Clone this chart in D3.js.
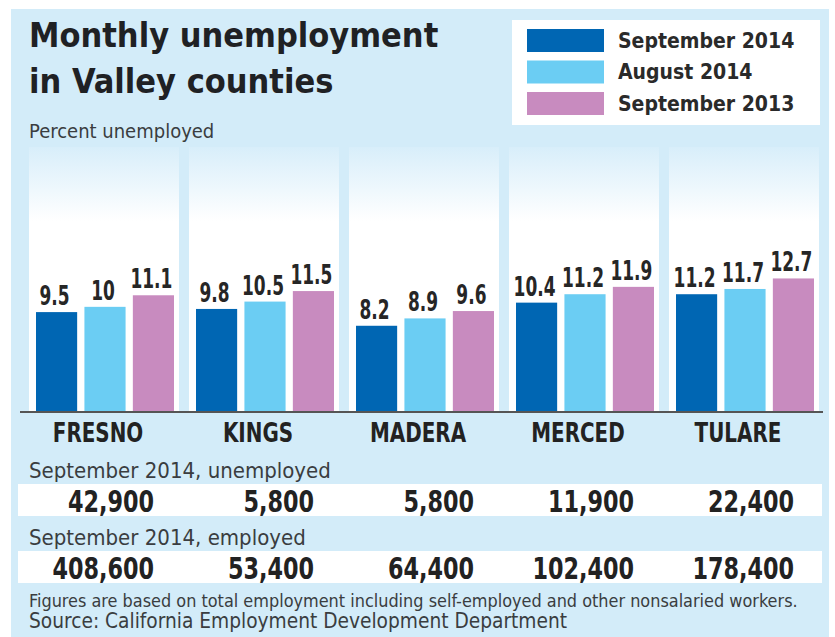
<!DOCTYPE html>
<html><head><meta charset="utf-8">
<script src="https://cdn.jsdelivr.net/npm/d3@7"></script>
<style>
html,body{margin:0;padding:0;background:#fff;}
svg{display:block;}
.cond{font-family:"DejaVu Sans Condensed","DejaVu Sans",sans-serif;font-stretch:condensed;}
</style></head>
<body>
<script>
const counties = ["FRESNO","KINGS","MADERA","MERCED","TULARE"];
const seriesNames = ["September 2014","August 2014","September 2013"];
const sep2014 = [9.5, 9.8, 8.2, 10.4, 11.2];
const aug2014 = [10, 10.5, 8.9, 11.2, 11.7];
const sep2013 = [11.1, 11.5, 9.6, 11.9, 12.7];
const unemployedSep2014 = [42900, 5800, 5800, 11900, 22400];
const employedSep2014 = [408600, 53400, 64400, 102400, 178400];
const seriesColors = ["#0066b3", "#6bcdf3", "#c88bbf"];

const W = 835, H = 637;
const svg = d3.select("body").append("svg").attr("width", W).attr("height", H);

const defs = svg.append("defs");
const grad = defs.append("linearGradient").attr("id","colGrad").attr("x1",0).attr("x2",0).attr("y1",0).attr("y2",1);
grad.append("stop").attr("offset","0%").attr("stop-color","#d8eefa");
grad.append("stop").attr("offset","28%").attr("stop-color","#ffffff");
grad.append("stop").attr("offset","100%").attr("stop-color","#ffffff");

// background panel
svg.append("rect").attr("x",11).attr("y",9).attr("width",818).attr("height",H-9).attr("fill","#d3ecf9");

// scales
const x0 = d3.scaleBand().domain(counties).range([25, 825]);
const x1 = d3.scaleBand().domain(seriesNames).range([11, 149]).paddingInner(0.15);
const y = d3.scaleLinear().domain([0, 25.2]).range([412, 147]);

const seriesData = [sep2014, aug2014, sep2013];

// column panels
svg.append("g").selectAll("rect").data(counties).join("rect")
  .attr("x", d => x0(d) + 4)
  .attr("y", y(25.2))
  .attr("width", x0.bandwidth() - 10)
  .attr("height", y(0) - y(25.2))
  .attr("fill", "url(#colGrad)");

// bars
const groups = svg.append("g").selectAll("g").data(counties).join("g")
  .attr("transform", d => `translate(${x0(d)},0)`);

const cells = (c, i) => seriesNames.map((s, j) => ({s, v: seriesData[j][i], j}));

groups.selectAll("rect").data(cells)
  .join("rect")
  .attr("x", d => x1(d.s))
  .attr("y", d => y(d.v))
  .attr("width", x1.bandwidth())
  .attr("height", d => y(0) - y(d.v))
  .attr("fill", d => seriesColors[d.j]);

groups.selectAll("text").data(cells)
  .join("text")
  .attr("class","cond")
  .attr("transform", d => `translate(${x1(d.s) + x1.bandwidth()/2 - 2},${y(d.v) - 7}) scale(0.7,1)`)
  .attr("text-anchor","middle")
  .attr("font-size", 27)
  .attr("font-weight","bold")
  .attr("fill","#262626")
  .text(d => String(d.v));

// baseline axis
const xAxis = d3.axisBottom(x0).tickSize(0).tickPadding(0);
const ax = svg.append("g").attr("transform", `translate(0,${y(0)})`).call(xAxis);
ax.select(".domain").attr("d", "M20,0H823").attr("stroke","#555").attr("stroke-width",2);
ax.selectAll(".tick text")
  .attr("class","cond")
  .attr("font-size", 27)
  .attr("font-weight","bold")
  .attr("fill","#222")
  .attr("dy", null)
  .attr("y", null)
  .attr("transform", "translate(-7,30) scale(0.82,1)");

// title
const title = svg.append("g").attr("class","cond").attr("fill","#1f2124").attr("font-weight","bold").attr("font-size",34);
title.append("text").attr("x",29).attr("y",47).text("Monthly unemployment");
title.append("text").attr("x",29).attr("y",93).text("in Valley counties");
svg.append("text").attr("class","cond").attr("x",29).attr("y",138).attr("font-size",20).attr("fill","#3a3d40").text("Percent unemployed");

// legend
const lg = svg.append("g");
lg.append("rect").attr("x",512).attr("y",20).attr("width",308).attr("height",105).attr("fill","#fff");
const li = lg.selectAll("g").data(seriesNames).join("g")
  .attr("transform", (d,i) => `translate(527,${29 + i*31.5})`);
li.append("rect").attr("width",77).attr("height",23).attr("fill",(d,i)=>seriesColors[i]);
li.append("text").attr("class","cond").attr("x",91).attr("y",18.5)
  .attr("font-size",21).attr("font-weight","bold").attr("fill","#2a2a2a").text(d=>d);

// table
const fmt = d3.format(",");
function tableRow(label, labelY, rowY, values) {
  svg.append("text").attr("class","cond").attr("x",29).attr("y",labelY)
    .attr("font-size",22).attr("fill","#3a3d40").text(label);
  svg.append("rect").attr("x",18).attr("y",rowY).attr("width",804).attr("height",32).attr("fill","#fff");
  svg.append("g").selectAll("text").data(values).join("text")
    .attr("class","cond")
    .attr("transform",(d,i)=> `translate(${x0(counties[i]) + x0.bandwidth()/2 + 49},${rowY + 28}) scale(0.8,1)`)
    .attr("text-anchor","end")
    .attr("font-size",31).attr("font-weight","bold").attr("fill","#222")
    .text(d=>fmt(d));
}
tableRow("September 2014, unemployed", 478, 484, unemployedSep2014);
tableRow("September 2014, employed", 545, 551, employedSep2014);

svg.append("text").attr("class","cond").attr("x",29).attr("y",607).attr("font-size",17.9).attr("fill","#3a3d40")
  .text("Figures are based on total employment including self-employed and other nonsalaried workers.");
svg.append("text").attr("class","cond").attr("x",29).attr("y",628).attr("font-size",20.7).attr("fill","#3a3d40")
  .text("Source: California Employment Development Department");
</script>
</body></html>
